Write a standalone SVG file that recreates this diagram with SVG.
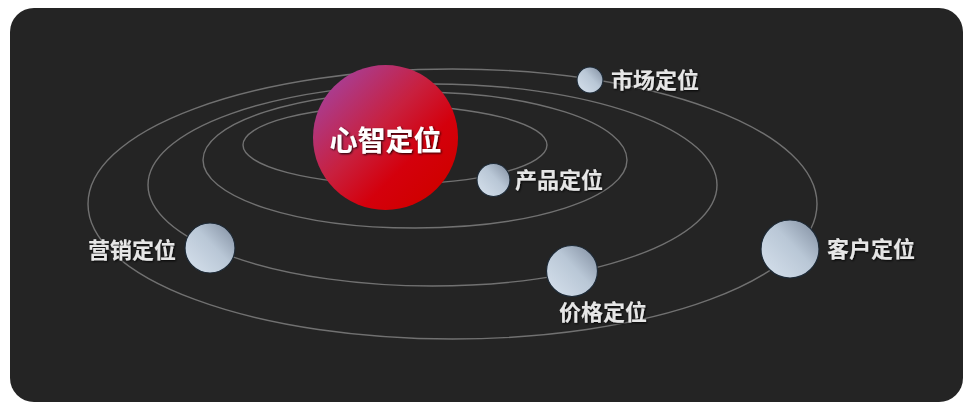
<svg xmlns="http://www.w3.org/2000/svg" width="972" height="410" viewBox="0 0 972 410">
<defs>
<linearGradient id="gRed" x1="0.1" y1="0.1" x2="0.85" y2="0.85">
<stop offset="0" stop-color="#a6409a"/>
<stop offset="0.45" stop-color="#c8203f"/>
<stop offset="0.75" stop-color="#d4000c"/>
<stop offset="1" stop-color="#d00000"/>
</linearGradient>
<linearGradient id="gBall" x1="0.1" y1="0.9" x2="0.95" y2="0.1">
<stop offset="0" stop-color="#d2dde9"/>
<stop offset="0.55" stop-color="#b9c7d6"/>
<stop offset="1" stop-color="#8794a6"/>
</linearGradient>
<filter id="sh" x="-10%" y="-20%" width="120%" height="150%">
<feDropShadow dx="1" dy="1" stdDeviation="0.8" flood-color="#000" flood-opacity="0.9"/>
</filter>
</defs>
<style>
.orbit{fill:none;stroke:#717171;stroke-width:1.4}
.ball{fill:url(#gBall);stroke:#1e2a36;stroke-width:1.2}
.lbl{font-family:"Noto Sans CJK SC","Noto Sans CJK TC",sans-serif;font-weight:700;font-size:22px;fill:#e6e6e6;filter:url(#sh)}
.core{font-family:"Noto Sans CJK SC","Noto Sans CJK TC",sans-serif;font-weight:700;font-size:28px;fill:#ffffff;text-anchor:middle;filter:url(#sh)}
</style>
<rect x="0" y="0" width="972" height="410" fill="#ffffff"/>
<rect x="10" y="8" width="953" height="394" rx="24" ry="24" fill="#242424"/>
<g id="connectors">
<ellipse class="orbit" cx="452.5" cy="204" rx="364.5" ry="135"/>
<ellipse class="orbit" cx="432.5" cy="185" rx="284.5" ry="101"/>
<ellipse class="orbit" cx="415" cy="160" rx="212" ry="68"/>
<ellipse class="orbit" cx="395" cy="145" rx="152" ry="39"/>
</g>
<g id="node-xinzhi">
<circle cx="385.5" cy="137.5" r="72.5" fill="url(#gRed)"/>
<text class="core" x="385.5" y="151">心智定位</text>
</g>
<g id="node-shichang">
<circle class="ball" cx="590" cy="80" r="13"/>
<text class="lbl" x="611" y="88">市场定位</text>
</g>
<g id="node-chanpin">
<circle class="ball" cx="493.5" cy="180" r="16.5"/>
<text class="lbl" x="515" y="188">产品定位</text>
</g>
<g id="node-yingxiao">
<circle class="ball" cx="210" cy="248" r="25"/>
<text class="lbl" x="88" y="258">营销定位</text>
</g>
<g id="node-jiage">
<circle class="ball" cx="572" cy="271" r="25.5"/>
<text class="lbl" x="559" y="320">价格定位</text>
</g>
<g id="node-kehu">
<circle class="ball" cx="790" cy="249" r="29"/>
<text class="lbl" x="827" y="257">客户定位</text>
</g>
</svg>
